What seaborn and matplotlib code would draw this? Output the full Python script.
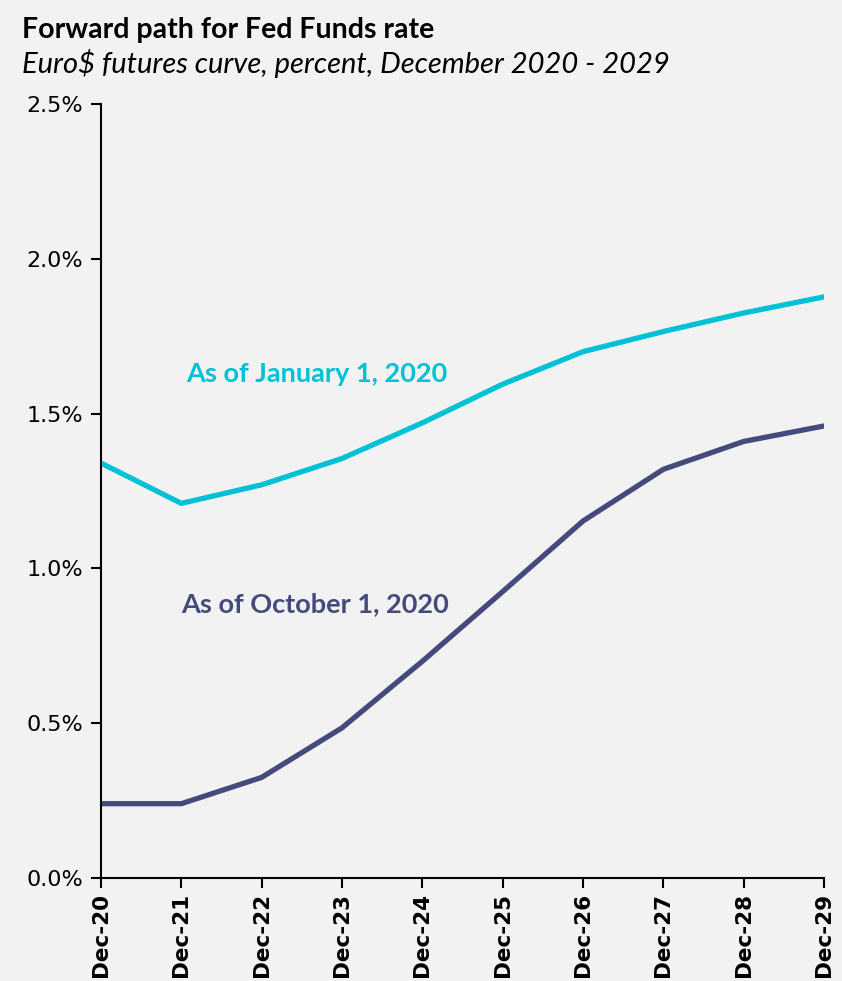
import matplotlib
matplotlib.use("Agg")
import matplotlib.pyplot as plt
import seaborn as sns
import pandas as pd
from matplotlib.ticker import FuncFormatter

dates = ["Dec-20", "Dec-21", "Dec-22", "Dec-23", "Dec-24", "Dec-25", "Dec-26", "Dec-27", "Dec-28", "Dec-29"]
jan_2020 = [1.34, 1.21, 1.27, 1.355, 1.47, 1.595, 1.70, 1.765, 1.825, 1.877]
oct_2020 = [0.24, 0.24, 0.325, 0.485, 0.70, 0.925, 1.153, 1.32, 1.41, 1.46]
series_names = ["As of January 1, 2020", "As of October 1, 2020"]
yticks = [0.0, 0.5, 1.0, 1.5, 2.0, 2.5]

BG = "#f2f2f2"
CYAN = "#00c1d5"
NAVY = "#454a7c"

sns.set_theme(style="white")
plt.rcParams["font.family"] = ["DejaVu Sans"]
LATO = ["Lato", "DejaVu Sans"]

df = pd.DataFrame({
    "date": dates * 2,
    "x": list(range(len(dates))) * 2,
    "rate": jan_2020 + oct_2020,
    "series": [series_names[0]] * len(dates) + [series_names[1]] * len(dates),
})

fig = plt.figure(figsize=(8.42, 9.81), dpi=100, facecolor=BG)
ax = fig.add_axes([0.12, 0.105, 0.8586, 0.789])
ax.set_facecolor(BG)

sns.lineplot(data=df, x="x", y="rate", hue="series",
             palette={series_names[0]: CYAN, series_names[1]: NAVY},
             linewidth=3.8, legend=False, ax=ax)

ax.set_xlim(0, len(dates) - 1)
ax.set_ylim(0, 2.5)
ax.set_xticks(range(len(dates)))
ax.set_xticklabels(dates, rotation=90, fontweight="bold", fontsize=15.5)
ax.set_yticks(yticks)
ax.yaxis.set_major_formatter(FuncFormatter(lambda v, p: f"{v:.1f}%"))
ax.tick_params(axis="y", labelsize=16, length=7, width=1.5, direction="out", left=True, pad=6,
               color="black", labelcolor="black")
ax.tick_params(axis="x", length=7, width=1.5, direction="out", bottom=True, pad=4,
               color="black", labelcolor="black")
ax.set_xlabel("")
ax.set_ylabel("")
for s in ["top", "right"]:
    ax.spines[s].set_visible(False)
for s in ["left", "bottom"]:
    ax.spines[s].set_color("black")
    ax.spines[s].set_linewidth(1.5)

ax.text(1.06, 1.628, series_names[0], color=CYAN, fontsize=19.5, fontweight="bold",
        ha="left", va="center", family=LATO)
ax.text(1.0, 0.885, series_names[1], color=NAVY, fontsize=19.5, fontweight="bold",
        ha="left", va="center", family=LATO)

fig.text(0.026, 0.969, "Forward path for Fed Funds rate", fontsize=20.5, fontweight="bold",
         ha="left", va="center", color="black", family=LATO)
fig.text(0.026, 0.935, "Euro$ futures curve, percent, December 2020 - 2029", fontsize=21,
         style="italic", ha="left", va="center", color="black", family=LATO)

fig.savefig("out.png", dpi=100, facecolor=BG)
